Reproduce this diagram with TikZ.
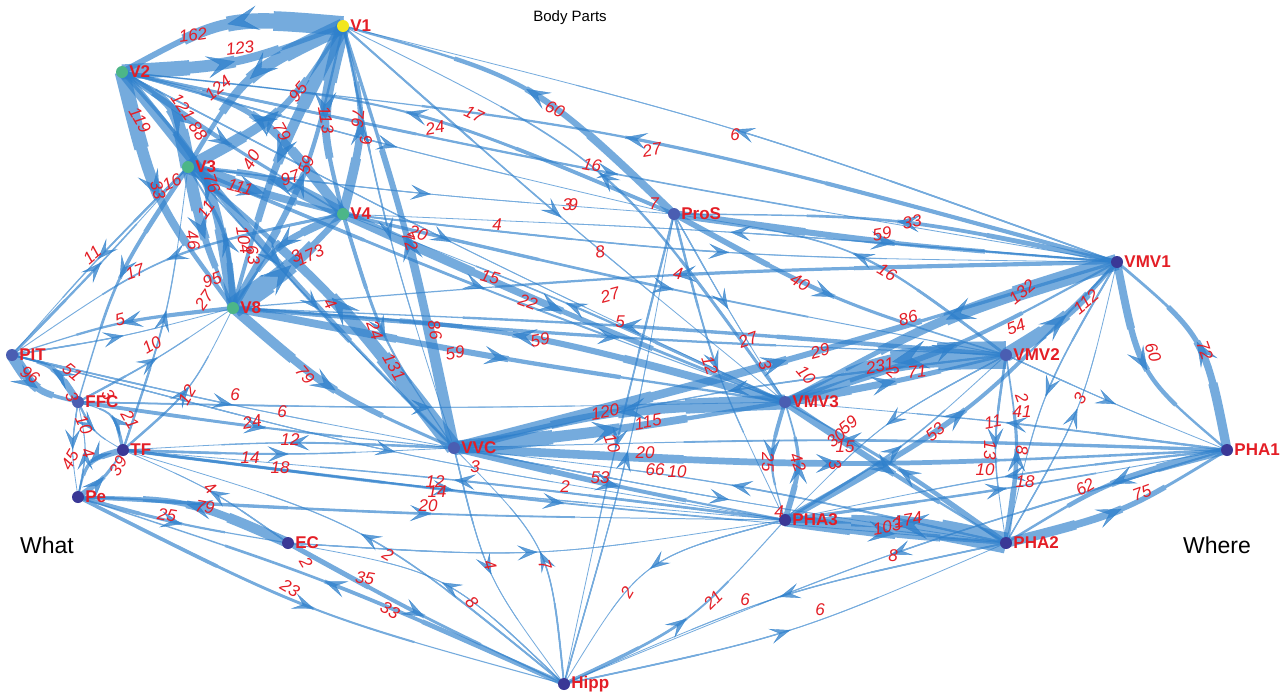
\documentclass[tikz,border=0pt]{standalone}
\usepackage{fontspec}
\setmainfont{Liberation Sans}
\usetikzlibrary{arrows.meta,decorations.markings,calc}
\pgfdeclarelayer{paper}
\pgfdeclarelayer{edges}
\pgfsetlayers{paper,edges,main}

\definecolor{edgeblue}{RGB}{46,128,204}
\definecolor{lblred}{RGB}{228,30,38}
\definecolor{vyellow}{RGB}{242,230,30}
\definecolor{vgreen}{RGB}{76,182,136}
\definecolor{vindigo}{RGB}{58,56,150}
\definecolor{vmid}{RGB}{74,94,178}

\tikzset{
  dot/.style={circle, inner sep=0pt, minimum size=12pt, fill=#1},
  arealabel/.style={text=lblred, font=\bfseries\fontsize{17}{17}\selectfont, inner sep=0pt},
  wlabel/.style={text=lblred, font=\itshape\fontsize{17}{17}\selectfont, inner sep=0pt},
  bandgroup/.style={transparency group, opacity=0.66},
  tip/.style={color=edgeblue, opacity=0.75},
  every label/.style={label distance=1pt},
}

% first part of the link curve, up to parameter #1 (#2, #3 place its end point)
\newcommand\lnkpart[4]{%
  \draw[edgeblue, line width=#4 pt] (la) .. controls ($(la)!#1!(cc)$) and ($(la)!#1!(cc)!#1!(cc)$)
     .. ($(la)!#3!(lb)!#2!(cc)$);}

% directed weighted link: source, target, weight, bend (to the right of travel)
% the band is widest at the source and narrows towards the target
\newcommand\lnk[4]{%
  \pgfmathsetmacro\eW{1+0.115*#3}%
  \pgfmathsetmacro\eWa{max(0.8,0.3*\eW)}%
  \pgfmathsetmacro\eWb{max(0.8,0.55*\eW)}%
  \pgfmathsetmacro\eWc{max(0.8,0.78*\eW)}%
  \pgfmathsetmacro\eAl{20+0.07*#3}%
  \pgfmathsetmacro\eAw{15+0.06*#3}%
  \pgfmathsetmacro\eAi{0.45*\eAl}%
  \coordinate (la) at (#1.center);
  \coordinate (lb) at (#2.center);
  \coordinate (cc) at ($(la)!0.5!(lb)!#4!-90:(lb)$);
  \begin{scope}[bandgroup]
    \draw[edgeblue, line width=\eWa pt] (la) .. controls (cc) .. (lb);
    \lnkpart{0.75}{0.5625}{0.964}{\eWb}
    \lnkpart{0.5}{0.75}{0.5}{\eWc}
    \lnkpart{0.25}{0.5625}{0.0357}{\eW}
  \end{scope}
  \path[tip, postaction={decorate, decoration={markings,
     mark=at position 0.5 with {\arrow{Stealth[length=\eAl pt, width=\eAw pt, inset=\eAi pt]}}}}]
     (#1.center) .. controls (cc) .. (#2.center);
}
% weight label: name, x, y, rotation, text
\newcommand\wl[5]{\node[wlabel, rotate=#4] (#1) at (#2,#3) {#5};}

\begin{document}
\begin{tikzpicture}[x=1pt, y=-1pt]
\useasboundingbox (0,0) rectangle (1287,697);
\begin{pgfonlayer}{paper}
\fill[white] (0,0) rectangle (1287,697);
\end{pgfonlayer}

% areas
\node[dot=vyellow, label={[arealabel]0:V1}] (V1) at (343,26) {};
\node[dot=vgreen, label={[arealabel]0:V2}] (V2) at (122,72) {};
\node[dot=vgreen, label={[arealabel]0:V3}] (V3) at (188,167) {};
\node[dot=vgreen, label={[arealabel]0:V4}] (V4) at (343,214) {};
\node[dot=vgreen, label={[arealabel]0:V8}] (V8) at (233,308) {};
\node[dot=vmid, label={[arealabel]0:ProS}] (ProS) at (674,214) {};
\node[dot=vindigo, label={[arealabel]0:VMV1}] (VMV1) at (1117,262) {};
\node[dot=vmid, label={[arealabel]0:VMV2}] (VMV2) at (1006,355) {};
\node[dot=vmid, label={[arealabel]0:VMV3}] (VMV3) at (785,402) {};
\node[dot=vindigo, label={[arealabel]0:PHA1}] (PHA1) at (1227,450) {};
\node[dot=vindigo, label={[arealabel]0:PHA3}] (PHA3) at (785,520) {};
\node[dot=vindigo, label={[arealabel]0:PHA2}] (PHA2) at (1006,543) {};
\node[dot=vmid, label={[arealabel]0:VVC}] (VVC) at (454,448) {};
\node[dot=vmid, label={[arealabel]0:PIT}] (PIT) at (12,355) {};
\node[dot=vmid, label={[arealabel]0:FFC}] (FFC) at (78,402) {};
\node[dot=vindigo, label={[arealabel]0:TF}] (TF) at (123,450) {};
\node[dot=vindigo, label={[arealabel]0:Pe}] (Pe) at (78,497) {};
\node[dot=vindigo, label={[arealabel]0:EC}] (EC) at (288,543) {};
\node[dot=vindigo, label={[arealabel]0:Hipp}] (Hipp) at (564,684) {};

\begin{pgfonlayer}{edges}
% early visual areas
\lnk{V1}{V2}{162}{0.30}
\lnk{V2}{V1}{123}{0.15}
\lnk{V1}{V3}{124}{0.30}
\lnk{V3}{V1}{95}{0.25}
\lnk{V1}{V4}{113}{0.25}
\lnk{V4}{V1}{76}{0.25}
\lnk{V1}{V8}{104}{0.10}
\lnk{V8}{V1}{59}{0.15}
\lnk{V1}{VVC}{9}{0.05}
\lnk{VVC}{V1}{86}{0.05}
\lnk{ProS}{V1}{60}{0.25}
\lnk{VMV1}{V1}{6}{0.05}
\lnk{VMV3}{V1}{17}{0.25}
\lnk{V1}{VMV3}{9}{0.02}
\lnk{V2}{V8}{119}{0.20}
\lnk{V3}{V2}{121}{0.45}
\lnk{V8}{V2}{88}{0.30}
\lnk{V4}{V2}{79}{0.35}
\lnk{V2}{V4}{40}{0.03}
\lnk{V2}{VVC}{76}{0.05}
\lnk{ProS}{V2}{24}{0.15}
\lnk{V2}{ProS}{7}{0.02}
\lnk{VMV1}{V2}{27}{0.08}
\lnk{V2}{VMV1}{16}{0.02}
\lnk{V2}{VMV3}{5}{0.02}
\lnk{V3}{FFC}{33}{0.15}
\lnk{V3}{PIT}{11}{0.03}
\lnk{PIT}{V3}{16}{0.02}
\lnk{V3}{V4}{111}{0.05}
\lnk{V4}{V3}{97}{0.20}
\lnk{V3}{V8}{95}{0.10}
\lnk{V8}{V3}{46}{0.25}
\lnk{TF}{V3}{11}{0.10}
\lnk{V3}{ProS}{3}{0.02}
\lnk{V3}{VMV3}{22}{0.02}
\lnk{V3}{VVC}{4}{0.02}
\lnk{VVC}{V3}{131}{0.10}
\lnk{V4}{V8}{63}{0.30}
\lnk{V8}{V4}{173}{0.10}
\lnk{V4}{VVC}{24}{0.15}
\lnk{V4}{VMV3}{72}{0.02}
\lnk{VMV3}{V4}{15}{0.03}
\lnk{V4}{VMV2}{20}{0.02}
\lnk{VMV1}{V4}{4}{0.02}
\lnk{V4}{VMV1}{8}{0.05}
\lnk{V8}{VVC}{79}{0.15}
\lnk{V8}{VMV3}{59}{0.02}
\lnk{VMV3}{V8}{59}{0.10}
\lnk{V8}{VMV2}{27}{0.02}
\lnk{VMV2}{V8}{29}{0.02}
\lnk{VMV1}{V8}{27}{0.03}
\lnk{PIT}{V8}{5}{0.05}
\lnk{V8}{PIT}{27}{0.10}
\lnk{FFC}{V8}{10}{0.05}
\lnk{TF}{V8}{12}{0.20}
% ventral stream
\lnk{PIT}{FFC}{96}{0.40}
\lnk{FFC}{PIT}{51}{0.40}
\lnk{V4}{PIT}{17}{0.20}
\lnk{PIT}{VVC}{6}{0.02}
\lnk{FFC}{TF}{10}{0.30}
\lnk{TF}{FFC}{21}{0.60}
\lnk{FFC}{Pe}{3}{0.15}
\lnk{Pe}{FFC}{4}{0.20}
\lnk{FFC}{VVC}{24}{0.02}
\lnk{FFC}{VMV3}{6}{0.02}
\lnk{TF}{Pe}{45}{0.60}
\lnk{Pe}{TF}{39}{0.20}
\lnk{TF}{VVC}{14}{0.04}
\lnk{VVC}{TF}{12}{0.05}
\lnk{TF}{PHA3}{12}{0.02}
\lnk{PHA3}{TF}{14}{0.02}
\lnk{TF}{PHA2}{18}{0.02}
\lnk{PIT}{PHA3}{2}{0.05}
\lnk{Hipp}{TF}{8}{0.20}
\lnk{EC}{TF}{4}{0.10}
\lnk{EC}{Pe}{79}{0.20}
\lnk{Pe}{EC}{25}{0.05}
\lnk{Pe}{Hipp}{23}{0.10}
\lnk{Hipp}{Pe}{33}{0.05}
\lnk{Pe}{PHA3}{20}{0.02}
\lnk{Hipp}{EC}{2}{0.30}
\lnk{EC}{Hipp}{35}{0.03}
\lnk{EC}{PHA3}{2}{0.11}
% VVC
\lnk{VVC}{VMV3}{115}{0.03}
\lnk{VMV3}{VVC}{120}{0.10}
\lnk{VVC}{VMV1}{86}{0.02}
\lnk{VMV2}{VVC}{10}{0.05}
\lnk{VVC}{PHA3}{53}{0.02}
\lnk{PHA1}{VVC}{20}{0.03}
\lnk{VVC}{PHA1}{66}{0.05}
\lnk{PHA2}{VVC}{10}{0.05}
\lnk{VVC}{Hipp}{4}{0.20}
\lnk{Hipp}{VVC}{7}{0.35}
\lnk{VVC}{PHA2}{3}{0.02}
% ProS
\lnk{ProS}{VMV1}{59}{0.03}
\lnk{VMV1}{ProS}{33}{0.10}
\lnk{ProS}{VMV2}{40}{0.10}
\lnk{VMV2}{ProS}{16}{0.25}
\lnk{ProS}{VMV3}{3}{0.02}
\lnk{ProS}{PHA3}{12}{0.10}
\lnk{Hipp}{ProS}{4}{0.05}
\lnk{ProS}{Hipp}{10}{0.02}
% dorsal medial areas
\lnk{VMV2}{VMV3}{231}{0.20}
\lnk{VMV3}{VMV2}{71}{0.03}
\lnk{VMV3}{VMV1}{54}{0.10}
\lnk{VMV1}{VMV3}{132}{0.10}
\lnk{VMV3}{PHA3}{25}{0.30}
\lnk{PHA3}{VMV3}{42}{0.30}
\lnk{VMV3}{PHA2}{59}{0.02}
\lnk{PHA2}{VMV3}{39}{0.05}
\lnk{PHA1}{VMV3}{11}{0.02}
\lnk{VMV2}{VMV1}{112}{0.15}
\lnk{VMV1}{PHA1}{60}{0.35}
\lnk{PHA1}{VMV1}{72}{0.35}
\lnk{PHA2}{VMV1}{3}{0.15}
\lnk{VMV1}{PHA2}{8}{0.15}
\lnk{PHA3}{VMV1}{53}{0.15}
\lnk{PHA3}{VMV2}{15}{0.10}
\lnk{VMV2}{PHA2}{13}{0.15}
\lnk{PHA2}{VMV2}{41}{0.15}
\lnk{VMV2}{PHA3}{3}{0.15}
\lnk{VMV2}{PHA1}{2}{0.02}
\lnk{PHA3}{PHA2}{103}{0.03}
\lnk{PHA2}{PHA3}{174}{0.10}
\lnk{PHA1}{PHA2}{62}{0.15}
\lnk{PHA2}{PHA1}{75}{0.15}
\lnk{PHA1}{PHA3}{10}{0.05}
\lnk{PHA3}{PHA1}{18}{0.02}
\lnk{PHA3}{Hipp}{2}{0.40}
\lnk{Hipp}{PHA3}{21}{0.20}
\lnk{PHA2}{Hipp}{6}{0.10}
\lnk{Hipp}{PHA2}{6}{0.10}
\lnk{PHA1}{Hipp}{8}{0.05}
\end{pgfonlayer}

% link weights
\wl{n1}{193}{35}{8}{162}
\wl{n2}{240}{48}{8}{123}
\wl{n3}{218}{88}{40}{124}
\wl{n4}{140}{120}{-60}{119}
\wl{n5}{183}{107}{-55}{121}
\wl{n6}{198}{131}{-55}{88}
\wl{n7}{298}{92}{50}{95}
\wl{n8}{282}{132}{-60}{79}
\wl{n9}{326}{120}{-80}{113}
\wl{n10}{358}{118}{-95}{76}
\wl{n11}{366}{140}{-80}{9}
\wl{n12}{251}{160}{60}{40}
\wl{n13}{306}{165}{70}{59}
\wl{n14}{290}{178}{20}{97}
\wl{n15}{240}{187}{-15}{111}
\wl{n16}{212}{183}{-70}{76}
\wl{n17}{158}{190}{-75}{33}
\wl{n18}{172}{182}{25}{16}
\wl{n19}{206}{210}{55}{11}
\wl{n20}{193}{240}{-80}{46}
\wl{n21}{244}{240}{-80}{104}
\wl{n22}{253}{255}{-80}{63}
\wl{n23}{310}{255}{25}{173}
\wl{n24}{296}{256}{25}{3}
\wl{n25}{212}{280}{20}{95}
\wl{n26}{204}{300}{55}{27}
\wl{n27}{92}{255}{40}{11}
\wl{n28}{135}{272}{20}{17}
\wl{n29}{120}{320}{15}{5}
\wl{n30}{152}{345}{30}{10}
\wl{n31}{30}{375}{-35}{96}
\wl{n32}{72}{372}{-40}{51}
\wl{n33}{72}{397}{-70}{3}
\wl{n34}{108}{395}{-60}{3}
\wl{n35}{84}{425}{-65}{10}
\wl{n36}{130}{420}{-60}{21}
\wl{n37}{70}{460}{60}{45}
\wl{n38}{88}{453}{-70}{4}
\wl{n39}{118}{466}{60}{39}
\wl{n40}{187}{395}{60}{12}
\wl{n41}{235}{395}{0}{6}
\wl{n42}{252}{422}{10}{24}
\wl{n43}{282}{412}{0}{6}
\wl{n44}{290}{440}{0}{12}
\wl{n45}{250}{458}{0}{14}
\wl{n46}{280}{468}{0}{18}
\wl{n47}{210}{488}{-40}{4}
\wl{n48}{205}{507}{-10}{79}
\wl{n49}{167}{515}{-10}{25}
\wl{n50}{330}{304}{-60}{4}
\wl{n51}{375}{330}{-70}{24}
\wl{n52}{435}{330}{-80}{86}
\wl{n53}{394}{367}{-60}{131}
\wl{n54}{305}{375}{-50}{79}
\wl{n55}{455}{353}{10}{59}
\wl{n56}{540}{340}{10}{59}
\wl{n57}{418}{233}{-20}{20}
\wl{n58}{410}{241}{-70}{72}
\wl{n59}{497}{225}{0}{4}
\wl{n60}{490}{277}{-15}{15}
\wl{n61}{528}{302}{-20}{22}
\wl{n62}{610}{295}{15}{27}
\wl{n63}{620}{322}{0}{5}
\wl{n64}{600}{252}{10}{8}
\wl{n65}{678}{274}{-10}{4}
\wl{n66}{474}{114}{-25}{17}
\wl{n67}{435}{128}{10}{24}
\wl{n68}{555}{109}{-25}{60}
\wl{n69}{735}{135}{0}{6}
\wl{n70}{652}{150}{10}{27}
\wl{n71}{592}{165}{-10}{16}
\wl{n72}{567}{205}{0}{3}
\wl{n72b}{573}{205}{0}{9}
\wl{n73}{654}{204}{0}{7}
\wl{n74}{912}{222}{10}{33}
\wl{n75}{882}{234}{10}{59}
\wl{n76}{887}{272}{-30}{16}
\wl{n77}{800}{282}{-30}{40}
\wl{n78}{908}{318}{15}{86}
\wl{n79}{1016}{327}{20}{54}
\wl{n80}{1022}{292}{40}{132}
\wl{n81}{1086}{302}{40}{112}
\wl{n82}{1153}{352}{-70}{60}
\wl{n83}{1205}{350}{-70}{72}
\wl{n84}{748}{340}{20}{27}
\wl{n85}{820}{351}{15}{29}
\wl{n86}{765}{365}{-70}{3}
\wl{n87}{806}{375}{-50}{10}
\wl{n88}{710}{365}{-70}{12}
\wl{n89}{880}{366}{10}{231}
\wl{n90}{893}{372}{-40}{2}
\wl{n91}{917}{372}{5}{71}
\wl{n92}{1022}{398}{-70}{2}
\wl{n93}{1022}{412}{0}{41}
\wl{n94}{1080}{398}{60}{3}
\wl{n95}{993}{422}{10}{11}
\wl{n96}{990}{450}{-90}{13}
\wl{n97}{1022}{450}{-90}{8}
\wl{n98}{985}{470}{0}{10}
\wl{n99}{1025}{482}{0}{18}
\wl{n100}{1085}{487}{30}{62}
\wl{n101}{1142}{493}{20}{75}
\wl{n102}{935}{432}{40}{53}
\wl{n103}{848}{425}{40}{59}
\wl{n104}{836}{438}{40}{30}
\wl{n105}{845}{447}{0}{15}
\wl{n106}{835}{465}{-70}{3}
\wl{n107}{768}{462}{-90}{25}
\wl{n108}{798}{462}{-70}{42}
\wl{n109}{779}{512}{0}{4}
\wl{n110}{887}{527}{10}{103}
\wl{n111}{908}{520}{10}{174}
\wl{n112}{893}{556}{0}{8}
\wl{n113}{820}{610}{0}{6}
\wl{n114}{745}{600}{0}{6}
\wl{n115}{713}{600}{45}{21}
\wl{n116}{627}{592}{60}{2}
\wl{n117}{605}{412}{10}{120}
\wl{n118}{648}{422}{10}{115}
\wl{n119}{612}{443}{-70}{10}
\wl{n120}{645}{453}{0}{20}
\wl{n121}{655}{470}{0}{66}
\wl{n122}{677}{472}{0}{10}
\wl{n123}{600}{478}{0}{53}
\wl{n124}{565}{487}{0}{2}
\wl{n125}{475}{467}{0}{3}
\wl{n126}{435}{482}{0}{12}
\wl{n127}{437}{492}{0}{14}
\wl{n128}{428}{506}{0}{20}
\wl{n129}{490}{565}{-70}{4}
\wl{n130}{545}{565}{-70}{7}
\wl{n131}{388}{555}{-30}{2}
\wl{n132}{472}{602}{-50}{8}
\wl{n133}{365}{578}{-10}{35}
\wl{n134}{306}{563}{-60}{2}
\wl{n135}{290}{588}{-30}{23}
\wl{n136}{390}{610}{-30}{33}

% titles
\node[font=\fontsize{15}{15}\selectfont] (title) at (570,18) {Body Parts};
\node[font=\fontsize{23}{23}\selectfont] (what) at (47,545) {What};
\node[font=\fontsize{23}{23}\selectfont] (where) at (1217,545) {Where};
\end{tikzpicture}
\end{document}
